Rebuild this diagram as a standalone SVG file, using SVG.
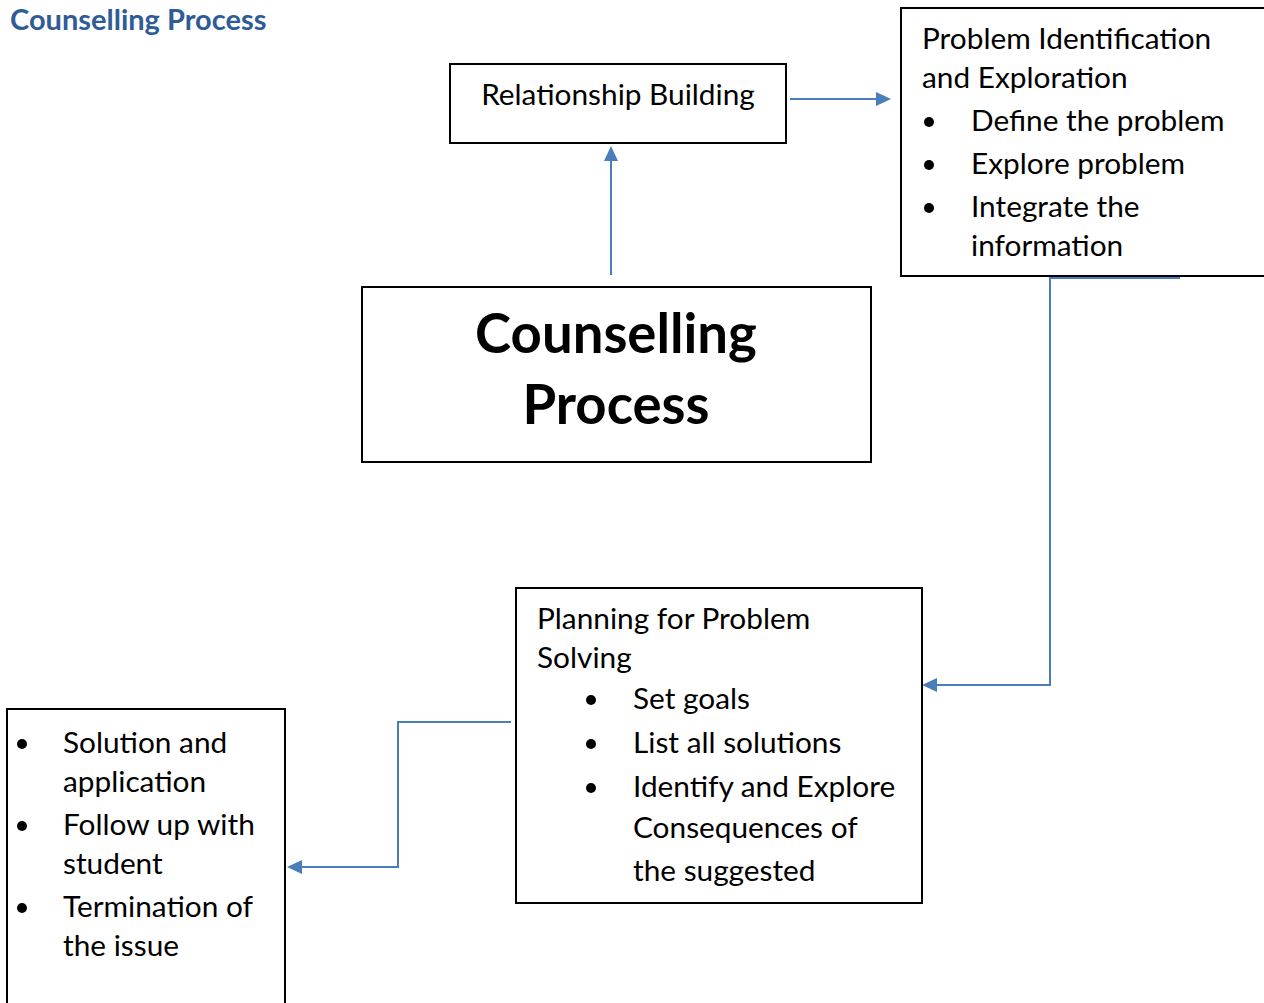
<svg xmlns="http://www.w3.org/2000/svg" width="1264" height="1003" viewBox="0 0 1264 1003">
<defs>
<style>
.box{fill:#fff;stroke:#000;stroke-width:2}
.t{font-family:Lato,"Open Sans",sans-serif;font-size:29.8px;fill:#000}
.big{font-family:Lato,"Open Sans",sans-serif;font-size:54.5px;font-weight:bold;fill:#000}
.title{font-family:Lato,"Open Sans",sans-serif;font-size:29px;font-weight:bold;fill:#2f5c97}
.con{fill:none;stroke:#4a7ebb;stroke-width:2}
.ah{fill:#4a7ebb}
</style>
</defs>
<rect width="1264" height="1003" fill="#fff"/>
<text class="title" x="10" y="30">Counselling Process</text>

<g id="connectors">
<path class="con" d="M611,275 V160"/>
<path class="ah" d="M611,146 L604,161 L618,161 z"/>
<path class="con" d="M790,99 H876"/>
<path class="ah" d="M891,99 L876,92 L876,106 z"/>
<path class="con" d="M1180,278 H1050 V685 H936"/>
<path class="ah" d="M922,685 L937,678 L937,692 z"/>
<path class="con" d="M511,722 H398 V867 H301"/>
<path class="ah" d="M287,867 L302,860 L302,874 z"/>
</g>

<g id="relationship">
<rect class="box" x="450" y="64" width="336" height="79"/>
<text class="t" x="618" y="105" text-anchor="middle">Relationship Building</text>
</g>

<g id="problem">
<rect class="box" x="901" y="8" width="370" height="268"/>
<text class="t" x="922" y="49">Problem Identification</text>
<text class="t" x="922" y="88">and Exploration</text>
<circle cx="929" cy="122" r="5"/>
<text class="t" x="971" y="131">Define the problem</text>
<circle cx="929" cy="165" r="5"/>
<text class="t" x="971" y="174">Explore problem</text>
<circle cx="929" cy="208" r="5"/>
<text class="t" x="971" y="217">Integrate the</text>
<text class="t" x="971" y="256">information</text>
</g>

<g id="counselling">
<rect class="box" x="362" y="287" width="509" height="175"/>
<text class="big" x="616" y="353" text-anchor="middle">Counselling</text>
<text class="big" x="616" y="424" text-anchor="middle">Process</text>
</g>

<g id="planning">
<rect class="box" x="516" y="588" width="406" height="315"/>
<text class="t" x="537" y="629">Planning for Problem</text>
<text class="t" x="537" y="668">Solving</text>
<circle cx="591" cy="700" r="5"/>
<text class="t" x="633" y="709">Set goals</text>
<circle cx="591" cy="744" r="5"/>
<text class="t" x="633" y="753">List all solutions</text>
<circle cx="591" cy="788" r="5"/>
<text class="t" x="633" y="797">Identify and Explore</text>
<text class="t" x="633" y="838">Consequences of</text>
<text class="t" x="633" y="881">the suggested</text>
</g>

<g id="followup">
<rect class="box" x="7" y="709" width="278" height="310"/>
<circle cx="22" cy="744" r="5"/>
<text class="t" x="63" y="753">Solution and</text>
<text class="t" x="63" y="792">application</text>
<circle cx="22" cy="826" r="5"/>
<text class="t" x="63" y="835">Follow up with</text>
<text class="t" x="63" y="874">student</text>
<circle cx="22" cy="908" r="5"/>
<text class="t" x="63" y="917">Termination of</text>
<text class="t" x="63" y="956">the issue</text>
</g>
</svg>
